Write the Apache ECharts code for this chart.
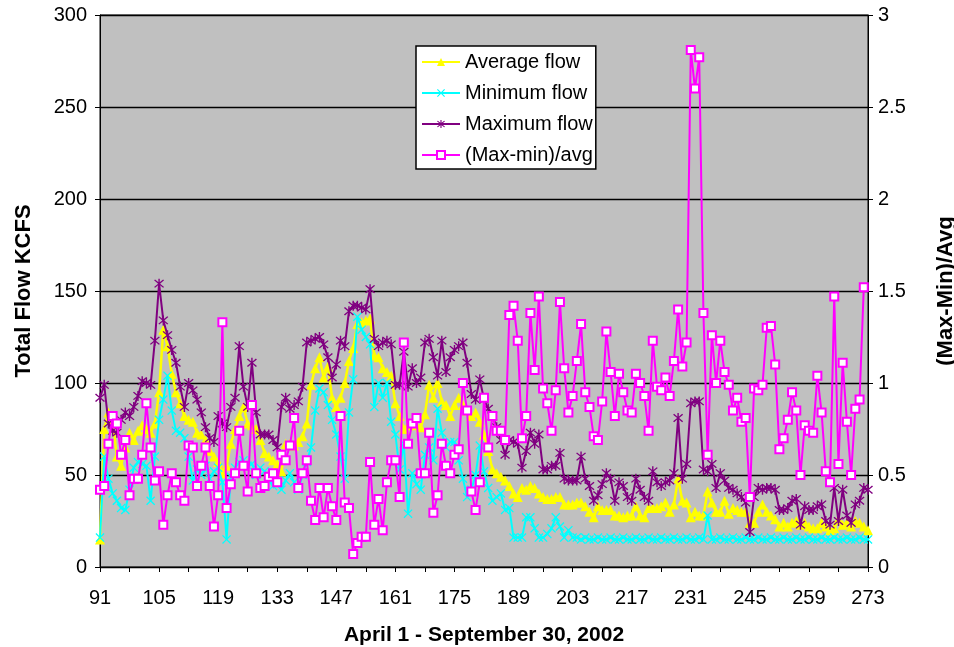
<!DOCTYPE html>
<html>
<head>
<meta charset="utf-8">
<script src="https://cdn.jsdelivr.net/npm/echarts@6/dist/echarts.min.js"></script>
<style>
html,body{margin:0;padding:0;background:#fff;}
#chart{width:954px;height:647px;}
</style>
</head>
<body>
<div id="chart"></div>
<script>
// Day of year, April 1 (91) to September 30 (273), 2002
const firstDay = 91;
const lastDay = 273;
const days = [];
for (let d = firstDay; d <= lastDay; d++) days.push(String(d));

const leftTicks = [0, 50, 100, 150, 200, 250, 300];
const rightTicks = [0, 0.5, 1, 1.5, 2, 2.5, 3];

// Average flow (KCFS)
const avgFlow = [
  15, 75, 84, 80, 60, 55, 65, 73, 69, 74,
  77, 75, 73, 78, 95, 129, 120, 105, 95, 89,
  82, 80, 79, 73, 72, 69, 63, 60, 57, 51,
  55, 67, 75, 82, 87, 78, 77, 75, 69, 62,
  60, 58, 56, 52, 67, 67, 66, 68, 71, 78,
  99, 108, 114, 103, 109, 92, 87, 92, 100, 112,
  119, 132, 133, 134, 135, 115, 114, 108, 106, 104,
  89, 82, 75, 77, 78, 77, 76, 83, 99, 92,
  100, 90, 88, 82, 88, 92, 88, 85, 82, 84,
  79, 72, 63, 53, 51, 49, 47, 44, 40, 38,
  43, 42, 44, 43, 40, 38, 37, 37, 38, 38,
  34, 34, 34, 35, 35, 33, 30, 27, 33, 31,
  31, 31, 28, 28, 27, 28, 28, 33, 28, 27,
  32, 32, 32, 33, 35, 30, 34, 48, 36, 35,
  27, 30, 28, 28, 41, 35, 30, 30, 36, 29,
  32, 31, 30, 30, 24, 24, 30, 34, 30, 28,
  26, 22, 24, 22, 24, 25, 23, 24, 22, 21,
  21, 24, 22, 20, 21, 26, 23, 24, 22, 25,
  24, 22, 20
];

// Minimum flow (KCFS)
const minFlow = [
  16, 60, 48, 40, 36, 32, 31, 42, 54, 57,
  56, 55, 36, 60, 80, 91, 104, 85, 74, 73,
  70, 60, 47, 53, 50, 55, 48, 52, 54, 46,
  15, 49, 54, 57, 58, 55, 56, 50, 54, 52,
  48, 44, 45, 42, 47, 51, 46, 42, 50, 57,
  65, 85, 97, 95, 88, 80, 72, 60, 48, 84,
  102, 136, 129, 125, 121, 87, 100, 92, 100, 79,
  72, 53, 67, 29, 51, 45, 42, 61, 65, 58,
  86, 73, 65, 68, 68, 58, 48, 38, 42, 50,
  66, 52, 43, 36, 38, 40, 31, 32, 16, 16,
  16, 27, 27, 21, 16, 16, 18, 21, 27, 22,
  16, 20, 16, 16, 15, 16, 15, 15, 16, 15,
  15, 16, 15, 15, 16, 15, 15, 16, 15, 15,
  16, 15, 15, 16, 15, 15, 16, 15, 15, 16,
  15, 15, 16, 15, 28, 15, 15, 16, 15, 15,
  16, 15, 15, 16, 15, 15, 16, 15, 15, 16,
  15, 15, 16, 15, 15, 16, 15, 15, 16, 15,
  15, 16, 15, 15, 16, 15, 15, 16, 15, 15,
  16, 15, 15
];

// Maximum flow (KCFS)
const maxFlow = [
  92, 99, 78, 74, 73, 80, 84, 82, 87, 93,
  101, 100, 99, 123, 154, 134, 126, 118, 111, 98,
  87, 100, 96, 91, 84, 76, 70, 68, 82, 78,
  76, 87, 92, 120, 98, 87, 111, 84, 72, 72,
  72, 69, 65, 87, 92, 86, 88, 90, 98, 122,
  123, 124, 125, 121, 114, 103, 110, 123, 120, 139,
  142, 142, 141, 140, 151, 124, 120, 122, 123, 121,
  99, 99, 117, 98, 108, 100, 103, 122, 124, 114,
  104, 123, 106, 114, 118, 120, 122, 111, 94, 91,
  102, 91, 86, 82, 76, 69, 61, 69, 68, 67,
  54, 63, 73, 67, 72, 53, 53, 55, 55, 62,
  48, 47, 47, 47, 60, 48, 44, 36, 39, 45,
  51, 48, 36, 46, 44, 38, 36, 48, 42, 38,
  36, 52, 46, 44, 46, 47, 51, 81, 48, 56,
  89, 90, 90, 53, 52, 56, 43, 51, 47, 43,
  42, 40, 38, 35, 19, 38, 43, 42, 43, 43,
  42, 31, 31, 32, 36, 37, 23, 33, 31, 31,
  33, 34, 25, 23, 43, 25, 42, 28, 24, 34,
  36, 43, 42
];

// (Max-min)/avg ratio (right axis)
const ratio = [
  0.42, 0.44, 0.67, 0.82, 0.78, 0.61, 0.69, 0.39, 0.48, 0.48,
  0.61, 0.89, 0.65, 0.47, 0.52, 0.23, 0.39, 0.51, 0.46, 0.39,
  0.36, 0.66, 0.65, 0.44, 0.55, 0.65, 0.44, 0.22, 0.39, 1.33,
  0.32, 0.45, 0.51, 0.74, 0.55, 0.41, 0.88, 0.51, 0.43, 0.44,
  0.49, 0.51, 0.46, 0.61, 0.58, 0.66, 0.81, 0.43, 0.51, 0.58,
  0.36, 0.255, 0.43, 0.27, 0.43, 0.33, 0.255, 0.82, 0.35, 0.32,
  0.07, 0.13, 0.165, 0.165, 0.57, 0.23, 0.37, 0.2, 0.46, 0.58,
  0.58, 0.38, 1.22, 0.67, 0.78, 0.81, 0.51, 0.51, 0.73, 0.295,
  0.39, 0.67, 0.55, 0.51, 0.61, 0.64, 1.0, 0.85, 0.41, 0.31,
  0.46, 0.92, 0.65, 0.82, 0.74, 0.74, 0.69, 1.37, 1.42, 1.23,
  0.70, 0.82, 1.38, 1.07, 1.47, 0.97, 0.89, 0.74, 0.96, 1.44,
  1.08, 0.84, 0.93, 1.12, 1.32, 0.95, 0.87, 0.71, 0.69, 0.90,
  1.28, 1.06, 0.82, 1.05, 0.95, 0.85, 0.84, 1.05, 1.0, 0.93,
  0.74, 1.23, 0.98, 0.96, 1.03, 0.93, 1.12, 1.40, 1.09, 1.22,
  2.81, 2.60, 2.77, 1.38, 0.61, 1.26, 1.0, 1.23, 1.06, 0.99,
  0.85, 0.92, 0.79, 0.81, 0.38, 0.97, 0.96, 0.99, 1.30, 1.31,
  1.10, 0.64, 0.70, 0.80, 0.95, 0.85, 0.50, 0.77, 0.74, 0.73,
  1.04, 0.84, 0.52, 0.46, 1.47, 0.56, 1.11, 0.79, 0.50, 0.86,
  0.91, 1.52, null
];

const FONT = 'Liberation Sans, Arial, sans-serif';
const xMark = 'path://M1,0 L5,4 L9,0 L10,1 L6,5 L10,9 L9,10 L5,6 L1,10 L0,9 L4,5 L0,1 Z';
const starMark = 'path://M1,0 L5,4 L9,0 L10,1 L6,5 L10,9 L9,10 L5,6 L1,10 L0,9 L4,5 L0,1 Z M4.3,-1 L5.7,-1 L5.7,11 L4.3,11 Z';

const chart = echarts.init(document.getElementById('chart'), null, {renderer: 'canvas'});

chart.setOption({
  animation: false,
  backgroundColor: '#ffffff',
  textStyle: {fontFamily: FONT},
  grid: {
    left: 100, right: 86, top: 15, bottom: 80,
    containLabel: false,
    outerBoundsMode: 'none',
    show: true, backgroundColor: '#C0C0C0', borderColor: '#000', borderWidth: 1
  },
  legend: {
    orient: 'vertical',
    left: 416, top: 46,
    backgroundColor: '#ffffff',
    borderColor: '#000000',
    borderWidth: 1.5,
    padding: [6, 3, 4, 5],
    itemWidth: 38, itemHeight: 10,
    itemGap: 11,
    textStyle: {fontSize: 20, color: '#000', fontFamily: FONT},
    data: ['Average flow', 'Minimum flow', 'Maximum flow', '(Max-min)/avg']
  },
  xAxis: {
    type: 'category',
    data: days,
    boundaryGap: false,
    name: 'April 1 - September 30, 2002',
    nameLocation: 'middle',
    nameGap: 58,
    nameTextStyle: {fontSize: 21, fontWeight: 'bold', color: '#000', fontFamily: FONT},
    axisLine: {lineStyle: {color: '#000', width: 1}},
    axisTick: {show: true, interval: 6, length: 5, lineStyle: {color: '#000', width: 1}},
    axisLabel: {interval: 13, fontSize: 20, color: '#000', margin: 21, fontFamily: FONT},
    splitLine: {show: false}
  },
  yAxis: [
    {
      type: 'value',
      min: leftTicks[0], max: leftTicks[leftTicks.length - 1], interval: 50,
      name: 'Total Flow KCFS',
      nameLocation: 'middle',
      nameRotate: 90,
      nameGap: 65,
      nameTextStyle: {fontSize: 22, fontWeight: 'bold', color: '#000', fontFamily: FONT},
      axisLine: {show: true, lineStyle: {color: '#000', width: 1}},
      axisTick: {show: true, length: 5, lineStyle: {color: '#000'}},
      axisLabel: {fontSize: 20, color: '#000', margin: 13, fontFamily: FONT},
      splitLine: {show: true, lineStyle: {color: '#000', width: 1.3}}
    },
    {
      type: 'value',
      min: rightTicks[0], max: rightTicks[rightTicks.length - 1], interval: 0.5,
      name: '(Max-Min)/Avg',
      nameLocation: 'middle',
      nameRotate: 90,
      nameGap: 67,
      nameTextStyle: {fontSize: 22, fontWeight: 'bold', color: '#000', fontFamily: FONT},
      axisLine: {show: true, lineStyle: {color: '#000', width: 1}},
      axisTick: {show: true, length: 5, lineStyle: {color: '#000'}},
      axisLabel: {fontSize: 20, color: '#000', margin: 10, fontFamily: FONT},
      splitLine: {show: false}
    }
  ],
  series: [
    {
      name: 'Average flow', type: 'line', yAxisIndex: 0, data: avgFlow,
      symbol: 'triangle', symbolSize: 10, showAllSymbol: true,
      lineStyle: {color: '#FFFF00', width: 2.5},
      itemStyle: {color: '#FFFF00'}, z: 2
    },
    {
      name: 'Minimum flow', type: 'line', yAxisIndex: 0, data: minFlow,
      symbol: xMark, symbolSize: 9, showAllSymbol: true,
      lineStyle: {color: '#00FFFF', width: 2},
      itemStyle: {color: '#00FFFF'}, z: 3
    },
    {
      name: 'Maximum flow', type: 'line', yAxisIndex: 0, data: maxFlow,
      symbol: starMark, symbolSize: 10, showAllSymbol: true,
      lineStyle: {color: '#800080', width: 2},
      itemStyle: {color: '#800080'}, z: 4
    },
    {
      name: '(Max-min)/avg', type: 'line', yAxisIndex: 1, data: ratio,
      symbol: 'emptyRect', symbolSize: 8, showAllSymbol: true,
      lineStyle: {color: '#FF00FF', width: 2},
      itemStyle: {color: '#FF00FF', borderColor: '#FF00FF', borderWidth: 2.5}, z: 5
    }
  ]
});
</script>
</body>
</html>
